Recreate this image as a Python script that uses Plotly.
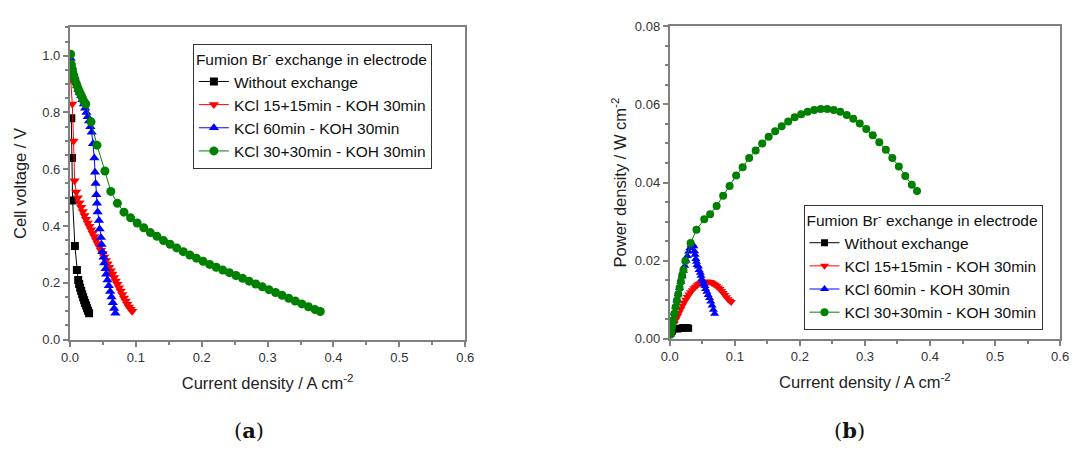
import plotly.graph_objects as go

# ---------------- data ----------------
names = ["Without exchange", "KCl 15+15min - KOH 30min", "KCl 60min - KOH 30min", "KCl 30+30min - KOH 30min"]

i_black = [0.002, 0.003, 0.004, 0.0075, 0.0105, 0.0125, 0.014, 0.0155, 0.017, 0.0185, 0.02, 0.0215, 0.023, 0.0245, 0.026, 0.0275, 0.029]
v_black = [0.78, 0.64, 0.49, 0.33, 0.245, 0.21, 0.196, 0.183, 0.171, 0.16, 0.149, 0.139, 0.129, 0.12, 0.111, 0.102, 0.093]
p_black = [0.0016, 0.0019, 0.0020, 0.0025, 0.0026, 0.0025, 0.0026, 0.0026, 0.0027, 0.0027, 0.0028, 0.0028, 0.0028, 0.0028, 0.0028, 0.0028, 0.0027]

i_red = [0.001, 0.0035, 0.0055, 0.007, 0.0095, 0.012, 0.0145, 0.017, 0.0195, 0.022, 0.0245, 0.027, 0.0295, 0.032, 0.0345,
         0.037, 0.0395, 0.042, 0.0445, 0.047, 0.0495, 0.052, 0.0545, 0.057, 0.0595, 0.062, 0.0645, 0.067, 0.0695, 0.072,
         0.0745, 0.077, 0.0795, 0.082, 0.0845, 0.087, 0.0895, 0.092, 0.0945]
v_red = [0.92, 0.83, 0.70, 0.56, 0.52, 0.500, 0.482, 0.466, 0.451, 0.437, 0.424, 0.411, 0.399, 0.387, 0.375,
         0.363, 0.351, 0.339, 0.327, 0.315, 0.303, 0.291, 0.279, 0.267, 0.255, 0.243, 0.231, 0.219, 0.207, 0.195,
         0.183, 0.171, 0.159, 0.147, 0.136, 0.125, 0.115, 0.107, 0.100]
p_red = [0.0009, 0.0029, 0.0039, 0.0039, 0.0049, 0.0058, 0.0067, 0.0076, 0.0085, 0.0093, 0.0100, 0.0107, 0.0113, 0.0119, 0.0124,
         0.0129, 0.0133, 0.0137, 0.0140, 0.0142, 0.0144, 0.0145, 0.0146, 0.0146, 0.0146, 0.0145, 0.0143, 0.0141, 0.0138, 0.0135,
         0.0131, 0.0127, 0.0122, 0.0117, 0.0112, 0.0106, 0.0101, 0.0097, 0.0094]

i_blue = [0.001, 0.003, 0.005, 0.007, 0.009, 0.011, 0.013, 0.015, 0.017, 0.019, 0.021, 0.023, 0.025, 0.027, 0.029, 0.031,
          0.033, 0.035, 0.037, 0.038, 0.039, 0.040, 0.041, 0.042, 0.044, 0.045, 0.047, 0.048, 0.049, 0.051, 0.052, 0.054,
          0.055, 0.057, 0.059, 0.061, 0.063, 0.065, 0.067, 0.069]
v_blue = [0.99, 0.96, 0.94, 0.925, 0.91, 0.895, 0.88, 0.87, 0.86, 0.845, 0.83, 0.815, 0.80, 0.785, 0.77, 0.75,
          0.73, 0.69, 0.64, 0.59, 0.55, 0.51, 0.48, 0.45, 0.42, 0.39, 0.36, 0.335, 0.31, 0.29, 0.27, 0.25,
          0.23, 0.21, 0.19, 0.17, 0.15, 0.13, 0.11, 0.093]
p_blue = [0.0010, 0.0029, 0.0047, 0.0065, 0.0082, 0.0098, 0.0114, 0.0130, 0.0146, 0.0160, 0.0174, 0.0187, 0.0200, 0.0212, 0.0223, 0.0232,
          0.0240, 0.0242, 0.0237, 0.0224, 0.0215, 0.0204, 0.0197, 0.0189, 0.0185, 0.0176, 0.0169, 0.0161, 0.0152, 0.0148, 0.0140, 0.0135,
          0.0127, 0.0120, 0.0112, 0.0104, 0.0095, 0.0085, 0.0074, 0.0064]

i_green = [0.001, 0.002, 0.003, 0.004, 0.005, 0.007, 0.009, 0.011, 0.013, 0.015, 0.017, 0.019, 0.021, 0.024, 0.032,
           0.041, 0.053, 0.062, 0.072, 0.082, 0.092, 0.102, 0.112, 0.122, 0.132, 0.142, 0.152, 0.162, 0.172, 0.182,
           0.192, 0.202, 0.212, 0.222, 0.232, 0.242, 0.252, 0.262, 0.272, 0.282, 0.292, 0.302, 0.312, 0.322, 0.332,
           0.342, 0.352, 0.362, 0.372, 0.380]
v_green = [1.005, 0.97, 0.955, 0.945, 0.935, 0.92, 0.905, 0.893, 0.88, 0.87, 0.86, 0.85, 0.84, 0.83, 0.767,
           0.685, 0.594, 0.522, 0.48, 0.449, 0.429, 0.411, 0.394, 0.377, 0.364, 0.349, 0.336, 0.323, 0.31, 0.298,
           0.287, 0.276, 0.265, 0.255, 0.245, 0.236, 0.226, 0.216, 0.206, 0.196, 0.186, 0.176, 0.166, 0.156, 0.146,
           0.136, 0.126, 0.116, 0.106, 0.099]
p_green = [0.0010, 0.0019, 0.0029, 0.0038, 0.0047, 0.0064, 0.0081, 0.0098, 0.0114, 0.0130, 0.0146, 0.0162, 0.0176, 0.0199, 0.0245,
           0.0279, 0.0306, 0.0319, 0.0340, 0.0366, 0.0391, 0.0418, 0.0439, 0.0463, 0.0482, 0.0500, 0.0517, 0.0531, 0.0544, 0.0556,
           0.0567, 0.0575, 0.0581, 0.0586, 0.0588, 0.0588, 0.0586, 0.0581, 0.0573, 0.0563, 0.0551, 0.0537, 0.0521, 0.0503, 0.0484,
           0.0463, 0.0441, 0.0417, 0.0394, 0.0378]

x_ticks = [0.0, 0.1, 0.2, 0.3, 0.4, 0.5, 0.6]
v_ticks = [0.0, 0.2, 0.4, 0.6, 0.8, 1.0]
p_ticks = [0.00, 0.02, 0.04, 0.06, 0.08]

legend_title = "Fumion Br<sup>-</sup> exchange in electrode"

# ---------------- styles ----------------
colors = ["#000000", "#ff0000", "#0000ff", "#008000"]
symbols = ["square", "triangle-down", "triangle-up", "circle"]
msize_left = [8, 9, 9, 9]
msize_right = [7, 8, 8, 8]

fig = go.Figure()

left_sets = [(i_black, v_black), (i_red, v_red), (i_blue, v_blue), (i_green, v_green)]
right_sets = [(i_black, p_black), (i_red, p_red), (i_blue, p_blue), (i_green, p_green)]

for k, (xs, ys) in enumerate(left_sets):
    fig.add_trace(go.Scatter(x=xs, y=ys, mode="lines+markers", name=names[k],
                             line=dict(color=colors[k], width=1),
                             marker=dict(symbol=symbols[k], size=msize_left[k], color=colors[k]),
                             xaxis="x", yaxis="y", legend="legend"))
for k, (xs, ys) in enumerate(right_sets):
    fig.add_trace(go.Scatter(x=xs, y=ys, mode="lines+markers", name=names[k],
                             line=dict(color=colors[k], width=1),
                             marker=dict(symbol=symbols[k], size=msize_right[k], color=colors[k]),
                             xaxis="x2", yaxis="y2", legend="legend2"))

W, H = 1078, 455
FONT = "Liberation Sans, Arial, sans-serif"
axis_common = dict(showline=True, linecolor="#808080", linewidth=2, mirror=True,
                   ticks="outside", ticklen=5, tickwidth=1.5, tickcolor="#808080",
                   showgrid=False, zeroline=False,
                   tickfont=dict(family=FONT, size=13, color="#333333"),
                   minor=dict(ticks="outside", ticklen=3, tickwidth=1.5, tickcolor="#808080"))
title_font = dict(family=FONT, size=16.5, color="#222222")
leg_font = dict(family=FONT, size=15.5, color="#111111")

fig.update_layout(
    width=W, height=H,
    margin=dict(l=0, r=0, t=0, b=0),
    paper_bgcolor="white", plot_bgcolor="white",
    xaxis=dict(domain=[62 / W, 464 / W], range=[0, 0.6], tickvals=x_ticks, tickformat=".1f",
               anchor="y", title=dict(text="Current density / A cm<sup>-2</sup>", font=title_font, standoff=13),
               **axis_common),
    yaxis=dict(domain=[1 - 344 / H, 1 - 21 / H], range=[0, 1.1], tickvals=v_ticks, tickformat=".1f",
               anchor="x", title=dict(text="Cell voltage / V", font=title_font, standoff=11),
               **axis_common),
    xaxis2=dict(domain=[672 / W, 1069 / W], range=[0, 0.6], tickvals=x_ticks, tickformat=".1f",
                anchor="y2", title=dict(text="Current density / A cm<sup>-2</sup>", font=title_font, standoff=13),
                **axis_common),
    yaxis2=dict(domain=[1 - 343 / H, 1 - 20 / H], range=[0, 0.08], tickvals=p_ticks, tickformat=".2f",
                anchor="x2", title=dict(text="Power density / W cm<sup>-2</sup>", font=title_font, standoff=4),
                **axis_common),
    legend=dict(x=187 / W, y=1 - 38 / H, xanchor="left", yanchor="top",
                bordercolor="#333333", borderwidth=1, bgcolor="white",
                title=dict(text=legend_title, font=leg_font),
                font=leg_font, tracegroupgap=0),
    legend2=dict(x=808 / W, y=1 - 334 / H, xanchor="left", yanchor="bottom",
                 bordercolor="#333333", borderwidth=1, bgcolor="white",
                 title=dict(text=legend_title, font=leg_font),
                 font=leg_font, tracegroupgap=0),
    showlegend=True,
)

fig.add_annotation(text="(<b>a</b>)", x=244 / W, y=1 - 438 / H, xref="paper", yref="paper",
                   xanchor="center", yanchor="middle",
                   showarrow=False, font=dict(family="DejaVu Serif, serif", size=21, color="#111111"))
fig.add_annotation(text="(<b>b</b>)", x=855 / W, y=1 - 438 / H, xref="paper", yref="paper",
                   xanchor="center", yanchor="middle",
                   showarrow=False, font=dict(family="DejaVu Serif, serif", size=21, color="#111111"))

fig.write_html("out.html")
